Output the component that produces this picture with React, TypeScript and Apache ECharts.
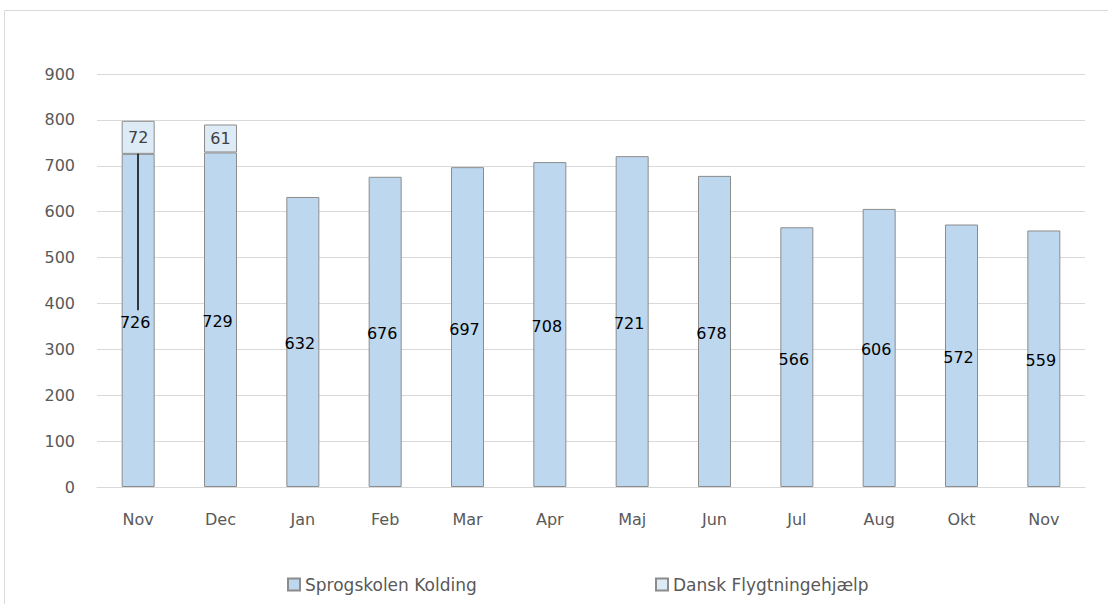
import React, { useEffect, useRef } from "react";
import * as echarts from "echarts";

const categories = ["Nov", "Dec", "Jan", "Feb", "Mar", "Apr", "Maj", "Jun", "Jul", "Aug", "Okt", "Nov"];
const sprogskolen = [726, 729, 632, 676, 697, 708, 721, 678, 566, 606, 572, 559];
const danskFlygtning = [72, 61, null, null, null, null, null, null, null, null, null, null];
const yTicks = { min: 0, max: 900, interval: 100 };
const leaderLine = { category: "Nov", from: 726, to: 385 };

const FONT = "'DejaVu Sans', 'Noto Sans', sans-serif";

export default function App() {
  const ref = useRef<HTMLDivElement>(null);
  useEffect(() => {
    if (!ref.current) return;
    const chart = echarts.init(ref.current, undefined, { renderer: "svg" });
    chart.setOption({
      animation: false,
      backgroundColor: "#ffffff",
      textStyle: { fontFamily: FONT },
      graphic: [
        {
          type: "rect",
          shape: { x: 4.5, y: 10.5, width: 1200, height: 700 },
          style: { fill: "none", stroke: "#d9d9d9", lineWidth: 1 },
          silent: true,
        },
      ],
      grid: { left: 97, right: 23, top: 74, bottom: 117 },
      legend: [
        {
          data: ["Sprogskolen Kolding"],
          icon: "rect",
          left: 282,
          top: 571,
          itemWidth: 12,
          itemHeight: 12,
          itemGap: 6,
          textStyle: { color: "#595959", fontSize: 17, fontFamily: FONT },
        },
        {
          data: ["Dansk Flygtningehjælp"],
          icon: "rect",
          left: 650,
          top: 571,
          itemWidth: 12,
          itemHeight: 12,
          textStyle: { color: "#595959", fontSize: 17, fontFamily: FONT },
        },
      ],
      xAxis: {
        type: "category",
        data: categories,
        axisTick: { show: false },
        axisLine: { lineStyle: { color: "#d9d9d9", width: 1 } },
        axisLabel: { color: "#595959", fontSize: 16, margin: 24, fontFamily: FONT },
      },
      yAxis: {
        type: "value",
        min: yTicks.min,
        max: yTicks.max,
        interval: yTicks.interval,
        axisLine: { show: false },
        axisTick: { show: false },
        splitLine: { lineStyle: { color: "#d9d9d9", width: 1 } },
        axisLabel: { color: "#595959", fontSize: 16, margin: 22, fontFamily: FONT },
      },
      series: [
        {
          name: "Sprogskolen Kolding",
          type: "bar",
          stack: "total",
          data: sprogskolen,
          barWidth: 33,
          itemStyle: { color: "#BDD7EE", borderColor: "#8c8c8c", borderWidth: 1 },
          label: {
            show: true,
            position: "inside",
            color: "#000000",
            fontSize: 16,
            fontFamily: FONT,
            offset: [-3, 2],
          },
          markLine: {
            silent: true,
            symbol: ["none", "none"],
            label: { show: false },
            lineStyle: { color: "#000000", width: 1.5, type: "solid" },
            data: [
              [
                { coord: [0, leaderLine.from] },
                { coord: [0, leaderLine.to] },
              ],
            ],
          },
        },
        {
          name: "Dansk Flygtningehjælp",
          type: "bar",
          stack: "total",
          data: danskFlygtning,
          barWidth: 33,
          itemStyle: { color: "#DDEBF7", borderColor: "#8c8c8c", borderWidth: 1 },
          label: {
            show: true,
            position: "inside",
            color: "#404040",
            fontSize: 16,
            fontFamily: FONT,
          },
        },
      ],
    });
    return () => chart.dispose();
  }, []);
  return (
    <div
      ref={ref}
      style={{ position: "fixed", left: 0, top: 0, width: 1108, height: 604 }}
    />
  );
}
